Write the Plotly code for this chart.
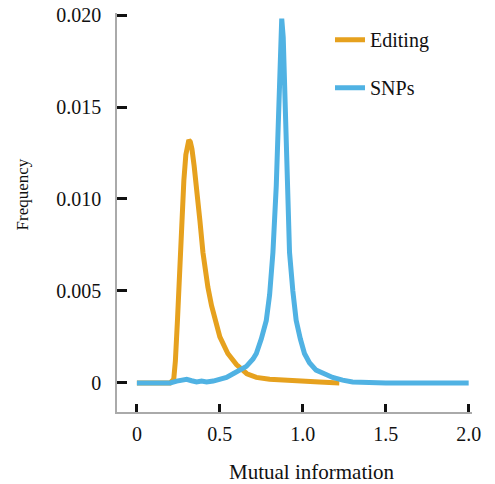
import plotly.graph_objects as go

# Data
editing_x = [0, 0.2, 0.222, 0.232, 0.245, 0.258, 0.27, 0.283, 0.295, 0.305, 0.313, 0.322,
             0.332, 0.345, 0.361, 0.38, 0.398, 0.413, 0.428, 0.45, 0.47, 0.5, 0.548, 0.6,
             0.663, 0.72, 0.8, 0.86, 0.93, 1.0, 1.1, 1.22]
editing_y = [0, 0, 0.0002, 0.0012, 0.0035, 0.0062, 0.0088, 0.0110, 0.0124, 0.0130, 0.0132,
             0.0131, 0.0127, 0.0118, 0.0106, 0.0088, 0.0071, 0.0061, 0.0052, 0.0042, 0.0034,
             0.0025, 0.0016, 0.0010, 0.0005, 0.0003, 0.0002, 0.00016, 0.0001, 0.0001,
             0.00005, 0]

snps_x = [0, 0.1, 0.2, 0.24, 0.27, 0.3, 0.33, 0.36, 0.39, 0.42, 0.46, 0.5, 0.54, 0.58,
          0.62, 0.66, 0.7, 0.72, 0.75, 0.78, 0.8, 0.82, 0.84, 0.852, 0.862, 0.873, 0.882,
          0.895, 0.905, 0.92, 0.94, 0.96, 0.985, 1.01, 1.04, 1.08, 1.13, 1.18, 1.24, 1.3,
          1.5, 2.0]
snps_y = [0, 0, 0, 0.0001, 0.00015, 0.0002, 0.00012, 0.00005, 0.0001, 0.00005, 0.0001,
          0.0002, 0.0003, 0.0005, 0.0007, 0.0009, 0.0013, 0.0016, 0.0024, 0.0034, 0.0048,
          0.0071, 0.0107, 0.0143, 0.0182, 0.0198, 0.0188, 0.0143, 0.0110, 0.0071, 0.0050,
          0.0034, 0.0024, 0.0016, 0.0011, 0.0007, 0.0005, 0.0003, 0.00015, 0.00005, 0, 0]

x_ticks = [0, 0.5, 1.0, 1.5, 2.0]
x_ticklabels = ["0", "0.5", "1.0", "1.5", "2.0"]
y_ticks = [0, 0.005, 0.010, 0.015, 0.020]
y_ticklabels = ["0", "0.005", "0.010", "0.015", "0.020"]

FONT = "Liberation Serif"
ORANGE = "#E6A11E"
BLUE = "#50B2E3"

fig = go.Figure()
fig.add_trace(go.Scatter(x=editing_x, y=editing_y, mode="lines", name="Editing",
                         legendgroup="a", line=dict(color=ORANGE, width=5)))
fig.add_trace(go.Scatter(x=snps_x, y=snps_y, mode="lines", name="SNPs",
                         legendgroup="b", line=dict(color=BLUE, width=5)))

fig.update_layout(
    width=495, height=484,
    margin=dict(l=117, r=23, t=13, b=72),
    plot_bgcolor="white", paper_bgcolor="white",
    font=dict(family=FONT, size=20, color="#111111"),
    showlegend=True,
    legend=dict(x=0.6, y=0.982, xanchor="left", yanchor="top",
                bgcolor="rgba(0,0,0,0)", tracegroupgap=19,
                font=dict(family=FONT, size=20, color="#111111")),
    xaxis=dict(range=[-0.12, 2.02], tickvals=x_ticks, ticktext=x_ticklabels,
               showgrid=False, zeroline=False, showline=True, linecolor="#aaaaaa",
               linewidth=1.5, ticks="inside", ticklen=8, tickwidth=2.5,
               tickcolor="#111111", ticklabelstandoff=3, automargin=False,
               ticklabeloverflow="allow",
               tickfont=dict(family=FONT, size=20)),
    yaxis=dict(range=[-0.00158, 0.02011], tickvals=y_ticks, ticktext=y_ticklabels,
               showgrid=False, zeroline=False, showline=True, linecolor="#aaaaaa",
               linewidth=1.5, ticks="inside", ticklen=10, tickwidth=2.5,
               tickcolor="#111111", ticklabelstandoff=10, automargin=False,
               ticklabeloverflow="allow",
               tickfont=dict(family=FONT, size=20)),
    annotations=[
        dict(text="Mutual information", xref="paper", yref="paper",
             x=0.55, y=-0.15, xanchor="center", yanchor="middle", showarrow=False,
             font=dict(family=FONT, size=21)),
        dict(text="Frequency", xref="paper", yref="paper",
             x=-0.265, y=0.545, xanchor="center", yanchor="middle", showarrow=False,
             textangle=-90, font=dict(family=FONT, size=17)),
    ],
)

# remove the browser's default 8px page margin so the figure fills the window
fig.write_html("out.html",
               config={"displayModeBar": False},
               post_script="document.body.style.margin='0';document.body.style.overflow='hidden';")
